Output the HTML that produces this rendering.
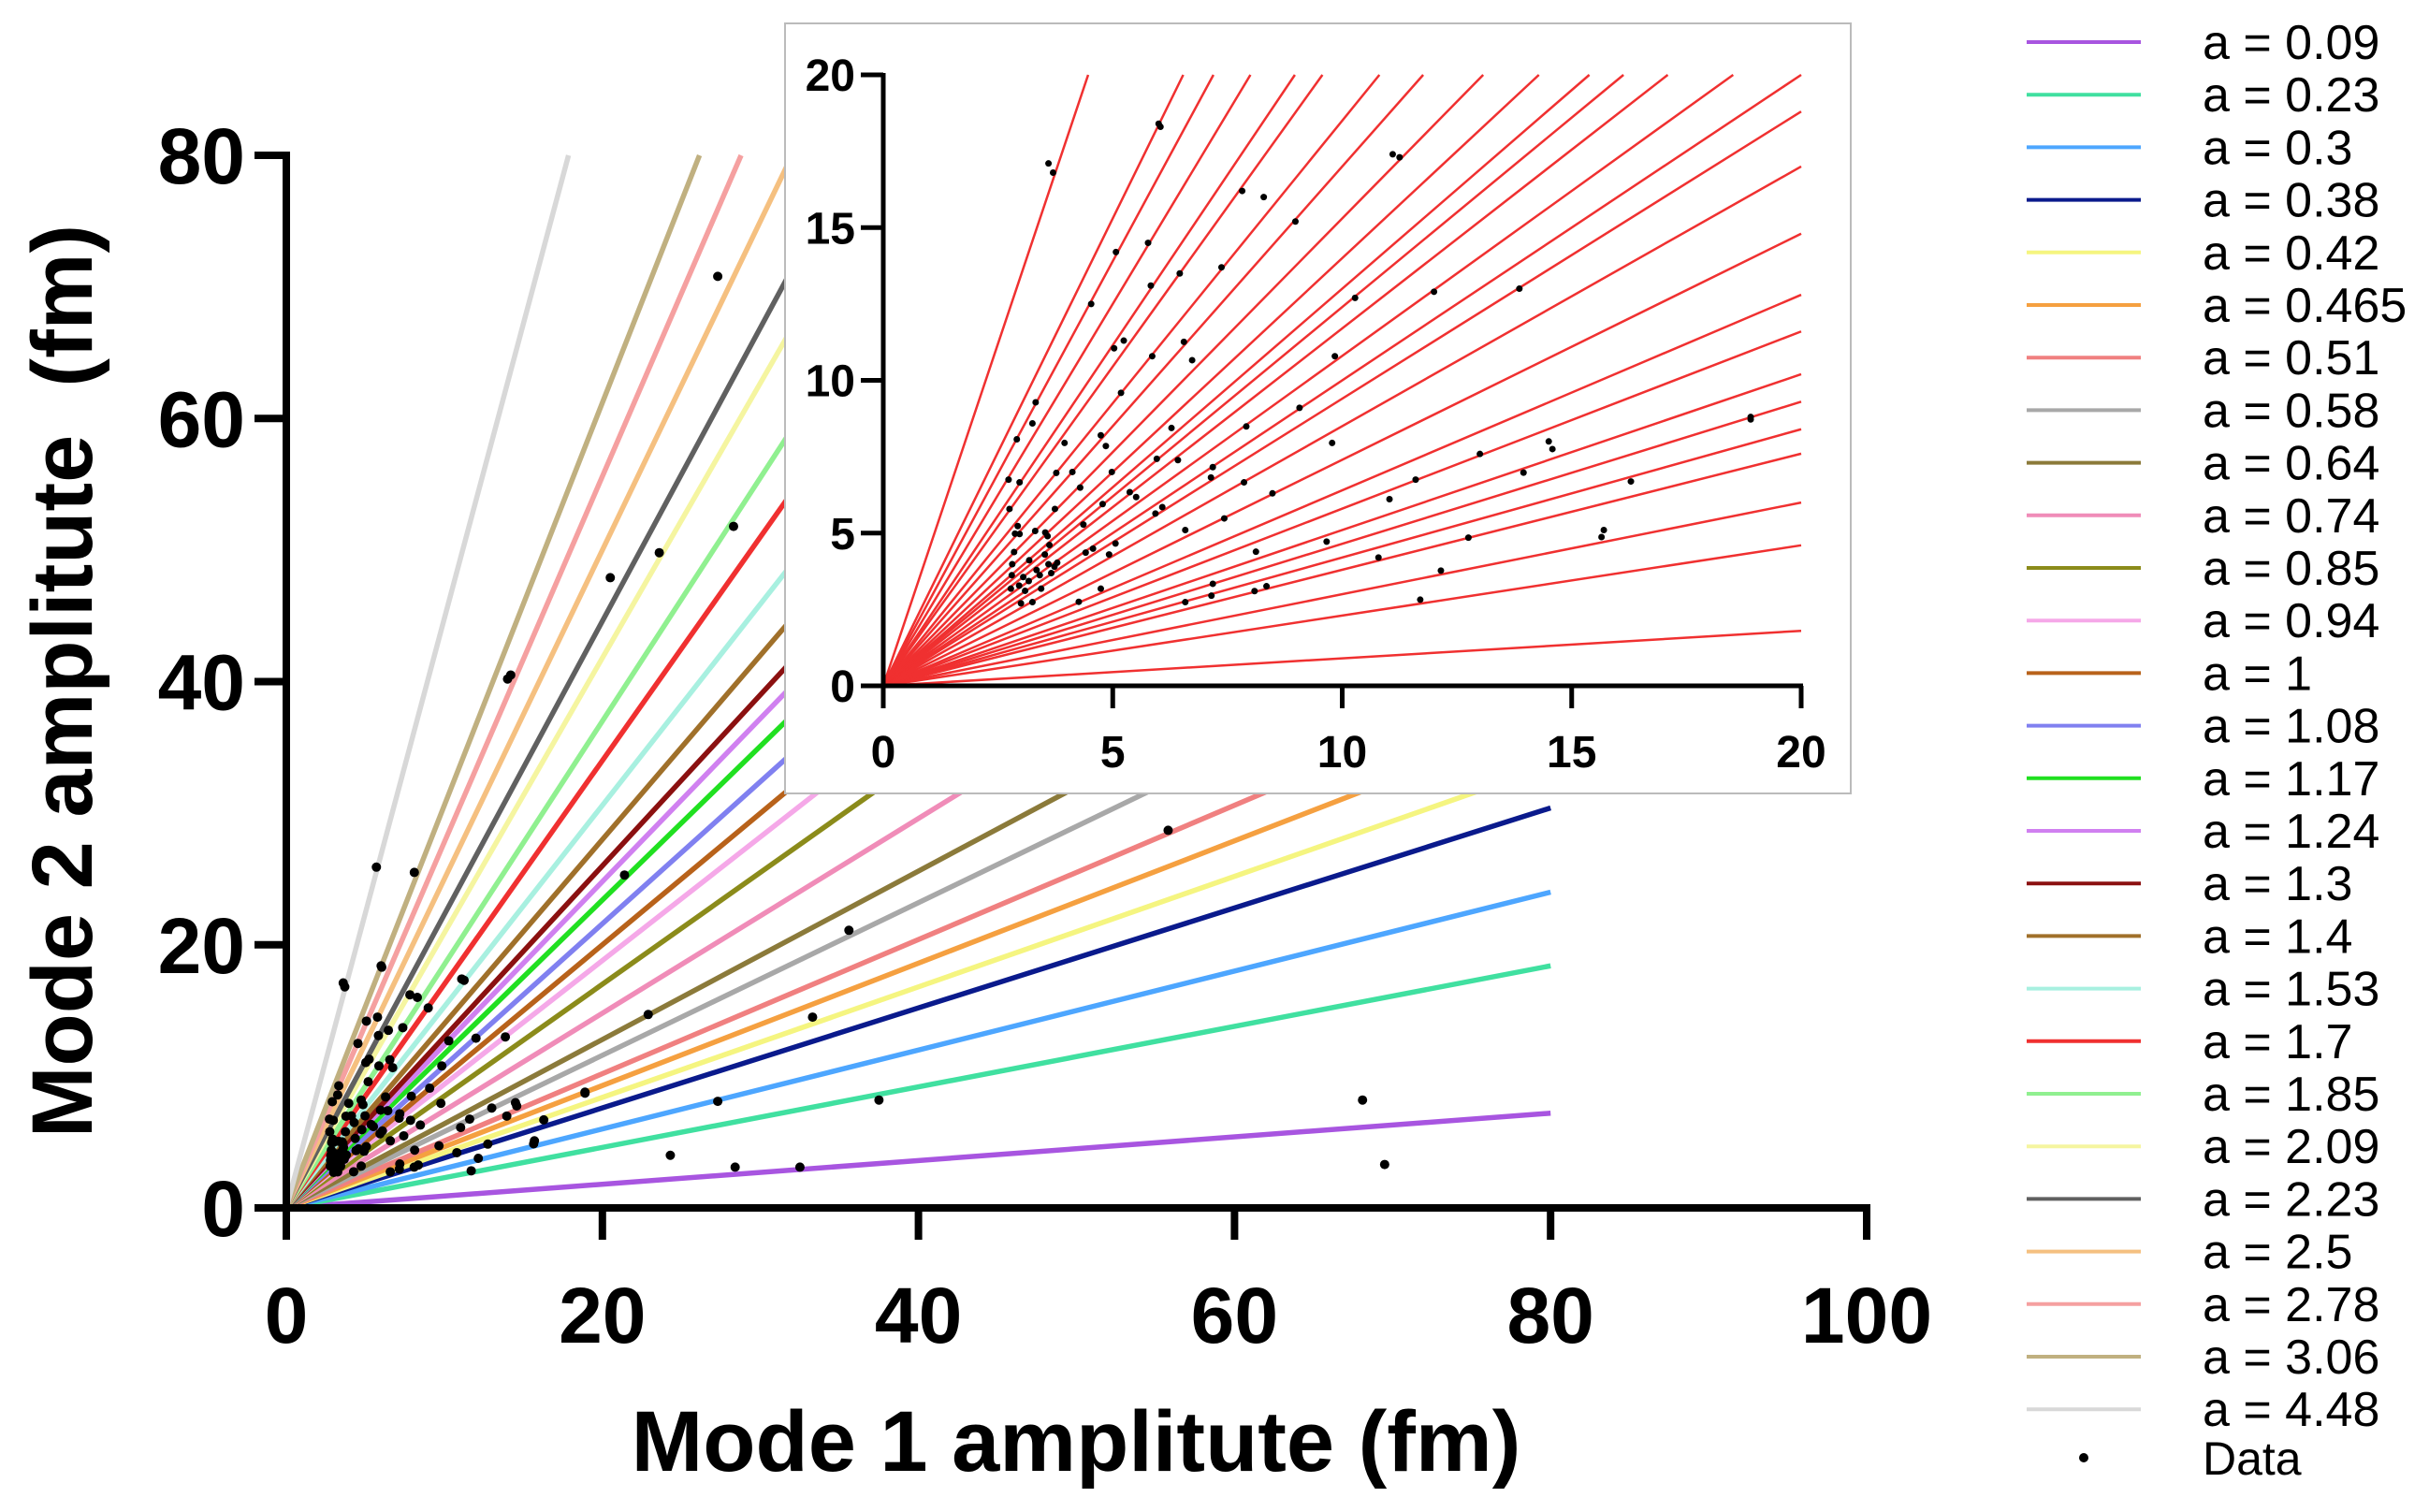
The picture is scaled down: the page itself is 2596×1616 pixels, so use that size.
<!DOCTYPE html>
<html><head><meta charset="utf-8"><style>
html,body{margin:0;padding:0;background:#fff;}
svg{display:block;font-family:"Liberation Sans",Arial,sans-serif;}
</style></head><body>
<svg id="chart" width="2596" height="1616" viewBox="0 0 2596 1616" xmlns="http://www.w3.org/2000/svg">
<rect width="2596" height="1616" fill="#fff"/>
<g id="main-lines"></g>
<g id="main-dots"></g>
<g id="main-axes"></g>
<text x="1150" y="1572" font-size="92" font-weight="bold" text-anchor="middle">Mode 1 amplitute (fm)</text>
<text transform="translate(98,728) rotate(-90)" font-size="92" font-weight="bold" text-anchor="middle" xml:space="preserve">Mode 2 amplitute  (fm)</text>
<g id="inset">
<rect x="839" y="25" width="1139" height="823" fill="#fff" stroke="#bbb" stroke-width="2"/>
<g id="inset-lines"></g>
<g id="inset-dots"></g>
<g id="inset-axes"></g>
</g>
<g id="legend"></g>
</svg>
<script>
const slopes = [0.09,0.23,0.3,0.38,0.42,0.465,0.51,0.58,0.64,0.74,0.85,0.94,1,1.08,1.17,1.24,1.3,1.4,1.53,1.7,1.85,2.09,2.23,2.5,2.78,3.06,4.48];
const labels = ["0.09","0.23","0.3","0.38","0.42","0.465","0.51","0.58","0.64","0.74","0.85","0.94","1","1.08","1.17","1.24","1.3","1.4","1.53","1.7","1.85","2.09","2.23","2.5","2.78","3.06","4.48"];
const colors = ["#a855e0","#40e0a0","#4da6ff","#0a1a8c","#f5f580","#f5a040","#f08080","#a8a8a8","#8b7a3a","#f08cb8","#8b8b1a","#f5a8e8","#b8621a","#8080f0","#20e020","#d080f0","#8b1010","#a0702a","#a8f0e0","#f03030","#90f090","#f5f5a0","#606060","#f5c080","#f5a0a0","#c0b080","#d8d8d8"];
const dataX = [3.7,6.04,11.25,7.82,8.29,8.98,5.07,5.77,6.46,7.37,5.83,4.53,10.28,12.0,13.86,5.24,5.03,6.55,6.73,5.86,9.84,5.18,3.32,9.07,3.25,6.28,7.91,18.9,2.91,3.95,4.74,4.85,9.78,14.58,13.0,5.96,6.42,7.18,3.77,4.12,4.98,7.14,11.6,13.95,2.73,2.97,7.86,16.29,4.29,8.48,5.37,5.51,11.03,4.78,2.75,3.74,6.08,5.93,7.43,4.36,2.93,3.31,6.58,3.53,2.87,2.97,3.58,12.75,15.65,9.66,5.06,3.62,4.57,2.85,4.41,8.12,4.92,3.52,10.79,3.18,3.79,2.81,3.6,3.73,12.15,3.34,2.8,3.66,3.41,3.05,3.17,7.18,8.35,2.96,4.74,2.78,3.44,8.09,3.09,7.15,3.25,4.26,3.0,6.58,11.7,
27.3,28.3,20.5,23.6,14.2,14.0,21.4,5.7,8.1,3.6,6.0,11.1,22.9,33.3,35.6,55.8,18.9,27.3,37.5,68.1,69.5,24.3,28.4,32.5,15.7,14.5];
const dataY = [16.8,18.3,17.3,16.2,16.0,15.2,14.2,14.5,13.5,13.7,13.1,12.5,12.7,12.9,13.0,11.3,11.05,11.26,10.66,10.79,10.79,9.59,9.28,9.1,8.59,8.44,8.49,8.72,8.07,7.95,8.2,7.85,7.95,7.75,7.59,7.43,7.39,7.16,6.97,7.0,7.0,6.82,6.75,6.98,6.75,6.66,6.66,6.69,6.49,6.3,6.34,6.18,6.11,5.95,5.79,5.79,5.85,5.64,5.48,5.28,5.23,5.07,5.1,5.02,4.98,4.97,4.9,4.85,4.87,4.72,4.66,4.61,4.49,4.38,4.36,4.39,4.3,4.3,4.2,4.11,4.03,3.98,3.98,3.9,3.77,3.79,3.62,3.69,3.62,3.56,3.43,3.34,3.26,3.28,3.18,3.18,3.18,3.1,3.11,2.95,2.74,2.75,2.7,2.74,2.82,
70.8,51.8,47.9,49.8,40.5,40.2,25.3,25.9,25.5,17.1,18.4,17.4,14.7,14.5,21.1,28.7,8.8,8.1,8.2,8.2,3.3,4.0,3.1,3.1,5.1,8.0];
const mainXTicks = [0,20,40,60,80,100];
const mainYTicks = [0,20,40,60,80];
const insetTicks = [0,5,10,15,20];

const NS = "http://www.w3.org/2000/svg";
function mk(parent, tag, attrs, text){
  const e = document.createElementNS(NS, tag);
  for (const k in attrs) e.setAttribute(k, attrs[k]);
  if (text !== undefined) e.textContent = text;
  parent.appendChild(e);
  return e;
}
const mx = v => 306 + v * (1995 - 306) / 100;
const my = v => 1291 - v * (1291 - 166) / 80;
const ix = v => 944 + v * (1925 - 944) / 20;
const iy = v => 733 - v * (733 - 80) / 20;

const gML = document.getElementById('main-lines');
slopes.forEach((s, i) => {
  const xe = Math.min(80, 80 / s);
  const l = mk(gML, 'line', {x1: mx(0), y1: my(0), x2: mx(xe), y2: my(xe * s), stroke: colors[i], 'stroke-width': 5.5});
  
  
});
const gMD = document.getElementById('main-dots');
dataX.forEach((x, i) => {
  const c = mk(gMD, 'circle', {cx: mx(x), cy: my(dataY[i]), r: 5, fill: '#000'});
  
  
});
const gMA = document.getElementById('main-axes');
const xa = mk(gMA, 'line', {x1: mx(0) - 4, y1: my(0), x2: mx(100) + 4, y2: my(0), stroke: '#000', 'stroke-width': 8});


const ya = mk(gMA, 'line', {x1: mx(0), y1: my(0) + 4, x2: mx(0), y2: my(80) - 4, stroke: '#000', 'stroke-width': 8});


mainXTicks.forEach(t => {
  const tk = mk(gMA, 'line', {x1: mx(t), y1: my(0), x2: mx(t), y2: my(0) + 34, stroke: '#000', 'stroke-width': 8});
  
  
  const tl = mk(gMA, 'text', {x: mx(t), y: 1435, 'font-size': 84, 'font-weight': 'bold', 'text-anchor': 'middle'}, String(t));
  
  
});
mainYTicks.forEach(t => {
  const tk = mk(gMA, 'line', {x1: mx(0) - 34, y1: my(t), x2: mx(0), y2: my(t), stroke: '#000', 'stroke-width': 8});
  
  
  const tl = mk(gMA, 'text', {x: 262, y: my(t) + 30, 'font-size': 84, 'font-weight': 'bold', 'text-anchor': 'end'}, String(t));
  
  
});

const gIL = document.getElementById('inset-lines');
slopes.forEach((s, i) => {
  const xe = Math.min(20, 20 / s);
  const l = mk(gIL, 'line', {x1: ix(0), y1: iy(0), x2: ix(xe), y2: iy(xe * s), stroke: '#f03030', 'stroke-width': 2.5});
  
  
});
const gID = document.getElementById('inset-dots');
dataX.forEach((x, i) => {
  if (x > 20 || dataY[i] > 20) return;
  const c = mk(gID, 'circle', {cx: ix(x), cy: iy(dataY[i]), r: 3.5, fill: '#000'});
  
  
});
const gIA = document.getElementById('inset-axes');
const ixa = mk(gIA, 'line', {x1: ix(0) - 2, y1: iy(0), x2: ix(20) + 2, y2: iy(0), stroke: '#000', 'stroke-width': 5});


const iya = mk(gIA, 'line', {x1: ix(0), y1: iy(0) + 2, x2: ix(0), y2: iy(20) - 2, stroke: '#000', 'stroke-width': 5});


insetTicks.forEach(t => {
  const tk = mk(gIA, 'line', {x1: ix(t), y1: iy(0), x2: ix(t), y2: iy(0) + 24, stroke: '#000', 'stroke-width': 5});
  
  
  const tl = mk(gIA, 'text', {x: ix(t), y: 820, 'font-size': 48, 'font-weight': 'bold', 'text-anchor': 'middle'}, String(t));
  
  
  const ty = mk(gIA, 'line', {x1: ix(0) - 24, y1: iy(t), x2: ix(0), y2: iy(t), stroke: '#000', 'stroke-width': 5});
  
  
  const yl = mk(gIA, 'text', {x: 914, y: iy(t) + 17, 'font-size': 48, 'font-weight': 'bold', 'text-anchor': 'end'}, String(t));
  
  
});

const gL = document.getElementById('legend');
labels.forEach((lab, i) => {
  const y = 45 + i * 56.2;
  const l = mk(gL, 'line', {x1: 2166, y1: y, x2: 2288, y2: y, stroke: colors[i], 'stroke-width': 4});
  
  
  const t = mk(gL, 'text', {x: 2354, y: y + 18, 'font-size': 52}, 'a = ' + lab);
  
  
});
const ld = mk(gL, 'circle', {cx: 2227, cy: 1558, r: 5, fill: '#000'});


const lt = mk(gL, 'text', {x: 2354, y: 1576, 'font-size': 50}, 'Data');


</script>
</body></html>
